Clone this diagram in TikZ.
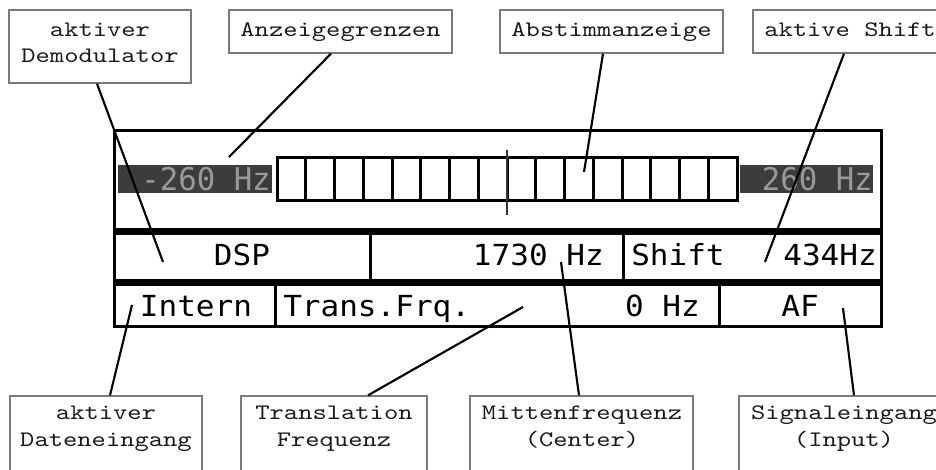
\documentclass[tikz,border=0pt]{standalone}
\usepackage{fontspec}
\usetikzlibrary{fit,calc}
\newfontfamily\lblfont[FakeStretch=1.23]{lmmono10-regular.otf}
\newfontfamily\lcdfont[FakeStretch=1.07]{DejaVu Sans Mono}
\newfontfamily\lcdbigfont[FakeStretch=0.98]{DejaVu Sans Mono}
\definecolor{boxgray}{HTML}{7A7A7A}
\definecolor{labeltext}{HTML}{1A1A1A}
\definecolor{lcddark}{HTML}{3C3C3C}
\definecolor{lcddim}{HTML}{9A9A9A}
\definecolor{markgray}{HTML}{333333}
\begin{document}
\begin{tikzpicture}[x=0.75pt,y=-0.75pt,
  lbox/.style={draw=boxgray, line width=1pt, inner sep=0pt},
  lbl/.style={font=\lblfont\fontsize{16.6pt}{20pt}\selectfont, text=labeltext, inner sep=0pt, anchor=base},
  lcdtxt/.style={font=\lcdfont\fontsize{21.75pt}{24pt}\selectfont, text=black, inner sep=0pt},
  lcdlim/.style={font=\lcdbigfont\fontsize{23.5pt}{26pt}\selectfont, text=lcddim, inner sep=0pt, anchor=base east},
  frame/.style={draw=black, line width=2.25pt},
  sep/.style={draw=black, line width=4.8pt},
  cell/.style={draw=black, line width=2.25pt},
  conn/.style={draw=black, line width=1.6pt}]
\useasboundingbox (0,0) rectangle (936,469);
\clip (0,0) rectangle (936,469);
\fill[white] (0,0) rectangle (936,469);

% ---- label boxes (top) ----
\node[lbox, fit={(9,10) (191,83)}] (demod) {};
\node[lbl] (demod1) at (100,36) {aktiver};
\node[lbl] (demod2) at (100,62) {Demodulator};

\node[lbox, fit={(229,10) (452,53)}] (anz) {};
\node[lbl] (anzT) at (340.5,36) {Anzeigegrenzen};

\node[lbox, fit={(500,10) (723,53)}] (abst) {};
\node[lbl] (abstT) at (611.5,36) {Abstimmanzeige};

\node[lbox, fit={(753,10) (947,53)}] (shift) {};
\node[lbl] (shiftT) at (850,36) {aktive Shift};

% ---- label boxes (bottom) ----
\node[lbox, fit={(10,396) (202,490)}] (daten) {};
\node[lbl] (daten1) at (106,419) {aktiver};
\node[lbl] (daten2) at (106,446) {Dateneingang};

\node[lbox, fit={(241,396) (427,490)}] (trans) {};
\node[lbl] (trans1) at (334,419) {Translation};
\node[lbl] (trans2) at (334,446) {Frequenz};

\node[lbox, fit={(470,396) (693,490)}] (mitte) {};
\node[lbl] (mitte1) at (582,419) {Mittenfrequenz};
\node[lbl] (mitte2) at (582,446) {(Center)};

\node[lbox, fit={(739,396) (949,490)}] (signal) {};
\node[lbl] (signal1) at (844,419) {Signaleingang};
\node[lbl] (signal2) at (844,446) {(Input)};

% ---- LCD display ----
\node[frame, inner sep=0pt, fit={(114,130) (881,326)}] (lcd) {};
\path[sep] (114,231.5) -- (881,231.5);
\path[sep] (114,282.5) -- (881,282.5);
\path[cell] (370,231.5) -- (370,282.5);
\path[cell] (623,231.5) -- (623,282.5);
\path[cell] (275,282.5) -- (275,326);
\path[cell] (719,282.5) -- (719,326);

% tuning bar
\fill[lcddark] (118,165) rectangle (272,193);
\node[lcdlim] (limL) at (271,190) {-260 Hz};
\fill[lcddark] (740,165) rectangle (873,193);
\node[lcdlim] (limR) at (873,190) {260 Hz};
\node[cell, inner sep=0pt, fit={(277,157) (737,200)}] (bar) {};
\foreach \k in {1,...,15} {
  \path[cell] ({277+\k*28.75},157) -- ({277+\k*28.75},200);
}
\draw[markgray, line width=1.6pt] (507,150) -- (507,215);

% row texts
\node[lcdtxt, anchor=base] (dsp) at (242,265) {DSP};
\node[lcdtxt, anchor=base east] (mid) at (604,265) {1730 Hz};
\node[lcdtxt, anchor=base west] (shw) at (631,265) {Shift};
\node[lcdtxt, anchor=base east] (shv) at (877,265) {434Hz};
\node[lcdtxt, anchor=base] (intern) at (196,316) {Intern};
\node[lcdtxt, anchor=base west] (tfw) at (283,316) {Trans.Frq.};
\node[lcdtxt, anchor=base east] (tfv) at (700,316) {0 Hz};
\node[lcdtxt, anchor=base] (af) at (800,316) {AF};

% connector ends
\coordinate (e1) at (163,262);
\coordinate (e2) at (229,157);
\coordinate (e3) at (584,172);
\coordinate (e4) at (765,262);
\coordinate (e5) at (132,305);
\coordinate (e6) at (523,307);
\coordinate (e7) at (561,262);
\coordinate (e8) at (843,308);

% connectors
\draw[conn] ($(demod.south)+(-3,0)$) -- (e1);
\draw[conn] ($(anz.south)+(-9.5,0)$) -- (e2);
\draw[conn] ($(abst.south)+(-8.5,0)$) -- (e3);
\draw[conn] ($(shift.south)+(-6,0)$) -- (e4);
\draw[conn] ($(daten.north)+(4,0)$) -- (e5);
\draw[conn] ($(trans.north)+(34,0)$) -- (e6);
\draw[conn] ($(mitte.north)+(-2.5,0)$) -- (e7);
\draw[conn] ($(signal.north)+(10,0)$) -- (e8);
\end{tikzpicture}
\end{document}
